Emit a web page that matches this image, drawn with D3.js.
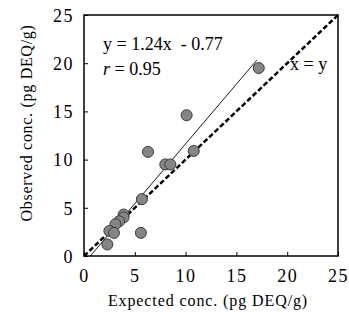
<!DOCTYPE html>
<html><head><meta charset="utf-8">
<script src="https://cdn.jsdelivr.net/npm/d3@7"></script>
<style>body{margin:0;background:#fff}svg text{font-family:"Liberation Serif","DejaVu Serif",serif !important;fill:#000}</style>
</head><body><svg id="c" width="349" height="323"></svg>
<script>
const expected = [17.2, 10.1, 6.3, 10.8, 8.0, 8.5, 5.7, 5.6, 3.9, 3.9, 3.45, 3.1, 2.5, 2.95, 2.3];
const observed = [19.5, 14.6, 10.8, 10.9, 9.5, 9.5, 5.9, 2.4, 4.3, 4.0, 3.6, 3.3, 2.6, 2.4, 1.2];
const ticks = [0, 5, 10, 15, 20, 25];
const slope = 1.24, intercept = -0.77;
const fitRange = [0.62, 17.0];

const svg = d3.select("#c");
const m = {l:84, t:15, r:338, b:256};
const x = d3.scaleLinear().domain([0,25]).range([m.l, m.r]);
const y = d3.scaleLinear().domain([0,25]).range([m.b, m.t]);

svg.append("rect").attr("x",m.l).attr("y",m.t).attr("width",m.r-m.l).attr("height",m.b-m.t)
  .attr("fill","none").attr("stroke","#000").attr("stroke-width",1.5);

const xa = svg.append("g").attr("transform",`translate(0,${m.b})`)
  .call(d3.axisBottom(x).tickValues(ticks).tickSize(-4).tickPadding(12));
const ya = svg.append("g").attr("transform",`translate(${m.l},0)`)
  .call(d3.axisLeft(y).tickValues(ticks).tickSize(-4).tickPadding(10));
[xa,ya].forEach(a=>{a.select(".domain").remove();a.selectAll("line").attr("stroke","#000");
  a.selectAll("text").attr("font-size",18).style("letter-spacing","1.5px");});
xa.selectAll("text").attr("y",null).attr("dy",null).attr("dominant-baseline",null).attr("transform","translate(0,26)");
ya.selectAll("text").attr("dy","0.35em");

// x = y dashed
svg.append("line").attr("x1",x(0)).attr("y1",y(0)).attr("x2",x(25)).attr("y2",y(25))
  .attr("stroke","#000").attr("stroke-width",2.5).attr("stroke-dasharray","5,2.5");
// regression
svg.append("line").attr("x1",x(fitRange[0])).attr("y1",y(slope*fitRange[0]+intercept))
  .attr("x2",x(fitRange[1])).attr("y2",y(slope*fitRange[1]+intercept))
  .attr("stroke","#000").attr("stroke-width",0.9);

svg.append("g").selectAll("circle").data(expected).join("circle")
  .attr("cx",(d)=>x(d)).attr("cy",(d,i)=>y(observed[i])).attr("r",5.5)
  .attr("fill","#858585").attr("stroke","#3a3a3a").attr("stroke-width",1);

svg.append("text").attr("x",103).attr("y",50).attr("font-size",18).attr("xml:space","preserve").text("y = 1.24x  - 0.77");
svg.append("text").attr("x",103).attr("y",75).attr("font-size",18).html('<tspan font-style="italic">r</tspan> = 0.95');
svg.append("text").attr("x",290).attr("y",70).attr("font-size",18).text("x = y");

svg.append("text").attr("x",208).attr("y",306).attr("text-anchor","middle").attr("font-size",16).style("letter-spacing","0.9px").text("Expected conc. (pg DEQ/g)");
svg.append("text").attr("transform","translate(32,123) rotate(-90)").attr("text-anchor","middle").attr("font-size",16).style("letter-spacing","0.7px").text("Observed conc. (pg DEQ/g)");
</script></body></html>
